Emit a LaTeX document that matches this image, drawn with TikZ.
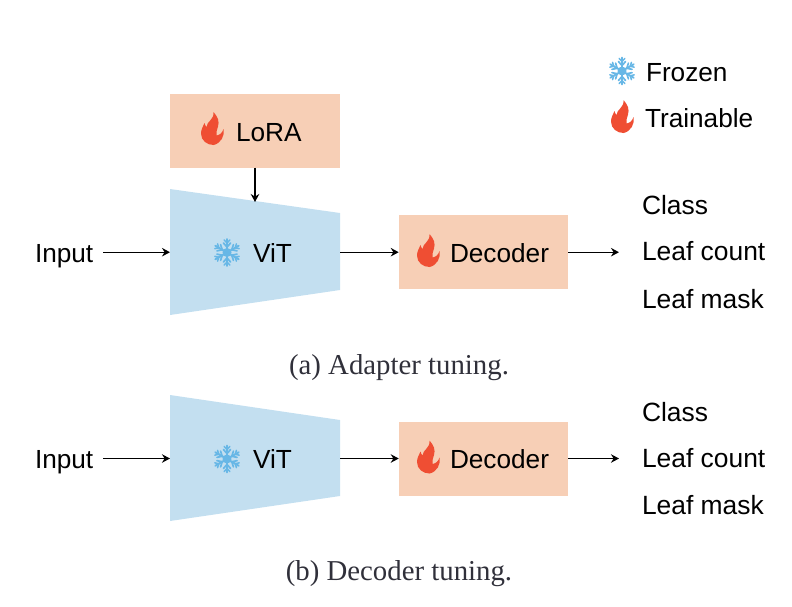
\documentclass[tikz,border=0pt]{standalone}
\usepackage{fontspec}
\usetikzlibrary{arrows.meta}
\setmainfont{Liberation Sans}
\newfontfamily\capfont{Liberation Serif}
\definecolor{boxorange}{HTML}{F7CFB6}
\definecolor{vitblue}{HTML}{C3DFF0}
\definecolor{flamered}{HTML}{EF4E33}
\definecolor{snowblue}{HTML}{67B7E6}
\definecolor{captxt}{HTML}{30303A}
\tikzset{
  every node/.style={inner sep=0pt,outer sep=0pt},
  lbl/.style={anchor=base west,font=\fontsize{26.2}{30}\selectfont,text=black},
  outlbl/.style={anchor=base west,font=\fontsize{26.4}{30}\selectfont,text=black},
  captiontext/.style={anchor=base,font=\capfont\fontsize{28.8}{33}\selectfont,text=captxt},
  orangebox/.style={fill=boxorange,minimum width=169.5pt,minimum height=74pt},
  vitfill/.style={fill=vitblue},
  vitcore/.style={minimum width=170pt,minimum height=76pt},
  conn/.style={draw=black,line width=1.3pt,-{Stealth[length=8pt,width=8.5pt]}},
  flame/.pic={
    \fill[flamered] (1.5,-16.5)
      .. controls (6,-11.5) and (7.5,-7) .. (6,-2)
      .. controls (5,1) and (4,4) .. (4.5,7)
      .. controls (8,6.5) and (10.5,4) .. (11.5,0.5)
      .. controls (13,7) and (9,15) .. (1.5,16.5)
      .. controls (-5,16.5) and (-11,12) .. (-11,5)
      .. controls (-11,1) and (-9,-2) .. (-7.5,-5.5)
      .. controls (-7,-3.5) and (-6.5,-2.5) .. (-5.5,-1.5)
      .. controls (-5.5,-7) and (2.5,-9) .. (1.5,-16.5) -- cycle;
  },
  snowflake/.pic={
    \foreach \a in {30,90,...,330}{
      \begin{scope}[rotate=\a]
        \draw[snowblue,line width=1.9pt,line cap=round] (0,0) -- (13.5,0);
        \draw[snowblue,line width=1.7pt,line cap=round] (5.5,0) -- (9.5,3.6) (5.5,0) -- (9.5,-3.6);
        \draw[snowblue,line width=1.5pt,line cap=round] (9.5,0) -- (12.5,2.8) (9.5,0) -- (12.5,-2.8);
      \end{scope}
    }
    \fill[snowblue] (0,0) circle (4.5pt);
  }
}
\begin{document}
\begin{tikzpicture}[x=1pt,y=-1pt]
\useasboundingbox (0,0) rectangle (792,606);
% legend
\pic at (622,71) {snowflake};
\node[lbl] (frozenL) at (646,81) {Frozen};
\pic at (622,116.5) {flame};
\node[lbl] (trainL) at (645,127) {Trainable};
% (a)
\node[orangebox] (lora) at (255,130.5) {};
\pic at (212,128.5) {flame};
\node[lbl] (loraT) at (236,141) {LoRA};
\fill[vitfill] (170,189) -- (340,213) -- (340,290) -- (170,315) -- cycle;
\node[vitcore] (vitA) at (255,252.2) {};
\coordinate (vitAtop) at (255,202);
\pic at (227,252.5) {snowflake};
\node[lbl] (vitAT) at (253,262) {ViT};
\node[orangebox] (decA) at (483.5,252.2) {};
\pic at (428,250.5) {flame};
\node[lbl] (decAT) at (450,262) {Decoder};
\node[lbl] (inA) at (35,262) {Input};
\coordinate (outA) at (619,252.2);
\node[outlbl] (o1A) at (642,214) {Class};
\node[outlbl] (o2A) at (642,260.5) {Leaf count};
\node[outlbl] (o3A) at (642,308) {Leaf mask};
\draw[conn] (lora.south) -- (vitAtop);
\draw[conn] ([xshift=10pt]inA.east |- vitA.west) -- (vitA.west);
\draw[conn] (vitA.east) -- (decA.west);
\draw[conn] (decA.east) -- (outA);
\node[captiontext] (capA) at (399,374) {(a) Adapter tuning.};
% (b)
\fill[vitfill] (170,395) -- (340,420) -- (340,496) -- (170,521) -- cycle;
\node[vitcore] (vitB) at (255,458.5) {};
\pic at (227,459) {snowflake};
\node[lbl] (vitBT) at (253,468) {ViT};
\node[orangebox] (decB) at (483.5,458.5) {};
\pic at (428,457) {flame};
\node[lbl] (decBT) at (450,468) {Decoder};
\node[lbl] (inB) at (35,468) {Input};
\coordinate (outB) at (619,458.5);
\node[outlbl] (o1B) at (642,421) {Class};
\node[outlbl] (o2B) at (642,467) {Leaf count};
\node[outlbl] (o3B) at (642,514.5) {Leaf mask};
\draw[conn] ([xshift=10pt]inB.east |- vitB.west) -- (vitB.west);
\draw[conn] (vitB.east) -- (decB.west);
\draw[conn] (decB.east) -- (outB);
\node[captiontext] (capB) at (399,580) {(b) Decoder tuning.};
\end{tikzpicture}
\end{document}
